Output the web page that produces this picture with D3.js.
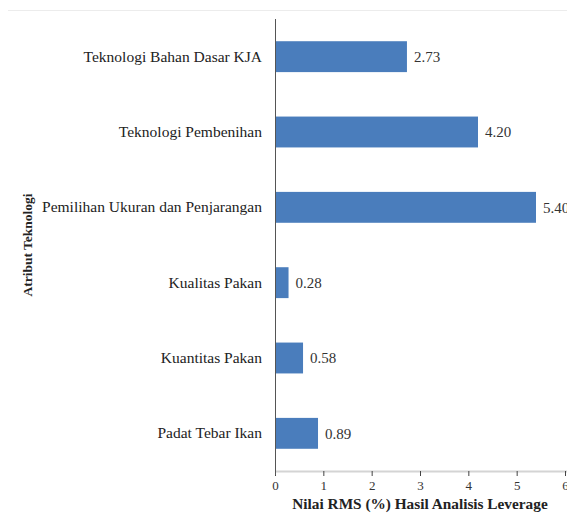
<!DOCTYPE html>
<html>
<head>
<meta charset="utf-8">
<script src="https://cdn.jsdelivr.net/npm/d3@7"></script>
<style>
  html, body { margin: 0; padding: 0; background: #fff; overflow: hidden; }
  svg { display: block; }
  svg text { font-family: "Liberation Serif", "DejaVu Serif", "Times New Roman", Times, serif !important; }
</style>
</head>
<body>
<script>
const categories = [
  "Teknologi Bahan Dasar KJA",
  "Teknologi Pembenihan",
  "Pemilihan Ukuran dan Penjarangan",
  "Kualitas Pakan",
  "Kuantitas Pakan",
  "Padat Tebar Ikan"
];
const values = [2.73, 4.20, 5.40, 0.28, 0.58, 0.89];
const xTicks = [0, 1, 2, 3, 4, 5, 6];
const xTitle = "Nilai RMS (%) Hasil Analisis Leverage";
const yTitle = "Atribut Teknologi";

const W = 567, H = 516;
const margin = { left: 275, right: 2, top: 19, bottom: 45 };
const svg = d3.select("body").append("svg").attr("width", W).attr("height", H);

// faint top border line
svg.append("line").attr("x1", 8).attr("x2", W).attr("y1", 10.5).attr("y2", 10.5)
  .attr("stroke", "#ececec").attr("stroke-width", 1);

const x = d3.scaleLinear().domain([0, 6]).range([margin.left, 565]);
const y = d3.scaleBand().domain(categories).range([margin.top, H - margin.bottom]).paddingInner(0.59).paddingOuter(0.295);

const data = categories.map((c, i) => ({ c, v: values[i] }));

// bars
svg.append("g").selectAll("rect").data(data).join("rect")
  .attr("x", x(0))
  .attr("y", d => y(d.c))
  .attr("width", d => x(d.v) - x(0))
  .attr("height", y.bandwidth())
  .attr("fill", "#4a7dbc");

// value labels
svg.append("g").selectAll("text").data(data).join("text")
  .attr("x", d => x(d.v) + 7)
  .attr("y", d => y(d.c) + y.bandwidth() / 2)
  .attr("dy", "0.35em")
  .attr("font-size", 15)
  .attr("fill", "#333")
  .text(d => d.v.toFixed(2));

// bottom axis
const axisY = H - margin.bottom;
svg.append("line").attr("x1", x(0)).attr("x2", W).attr("y1", axisY + 0.5).attr("y2", axisY + 0.5)
  .attr("stroke", "#d4d4d4").attr("stroke-width", 2);
const xAxis = d3.axisBottom(x).tickValues(xTicks).tickFormat(d3.format("d")).tickSize(5).tickPadding(5);
const gx = svg.append("g").attr("transform", `translate(0,${axisY})`).call(xAxis);
gx.select(".domain").remove();
gx.selectAll(".tick line").attr("stroke", "#444");
gx.selectAll(".tick text").attr("font-size", 13).attr("fill", "#333");

// left axis
const yAxis = d3.axisLeft(y).tickSize(0).tickPadding(13);
const gy = svg.append("g").attr("transform", `translate(${x(0)},0)`).call(yAxis);
gy.select(".domain").remove();
gy.selectAll(".tick text").attr("font-size", 15.5).attr("fill", "#222");
svg.append("line").attr("x1", x(0) + 0.5).attr("x2", x(0) + 0.5).attr("y1", margin.top).attr("y2", axisY + 4)
  .attr("stroke", "#555").attr("stroke-width", 1);

// axis titles
svg.append("text").attr("x", 420).attr("y", 509)
  .attr("text-anchor", "middle").attr("font-size", 15.3).attr("font-weight", "bold").attr("fill", "#222")
  .text(xTitle);
svg.append("text").attr("transform", "translate(32,245) rotate(-90)")
  .attr("text-anchor", "middle").attr("font-size", 13.5).attr("font-weight", "bold").attr("fill", "#222")
  .text(yTitle);
</script>
</body>
</html>
